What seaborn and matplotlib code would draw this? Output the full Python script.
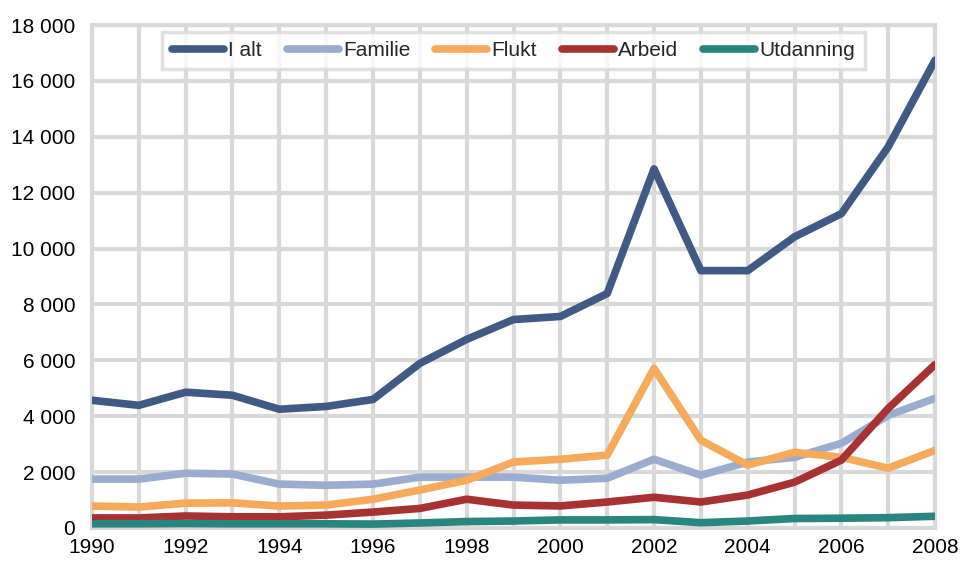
import numpy as np
import pandas as pd
import seaborn as sns
import matplotlib
matplotlib.use("Agg")
import matplotlib.pyplot as plt
from matplotlib.ticker import MultipleLocator, FuncFormatter

years = list(range(1990, 2009))
i_alt = [4570, 4390, 4860, 4750, 4250, 4350, 4600, 5890, 6750, 7460, 7570, 8390, 12850, 9210, 9210, 10420, 11250, 13640, 16740]
familie = [1750, 1750, 1960, 1930, 1570, 1530, 1570, 1820, 1820, 1820, 1710, 1780, 2460, 1890, 2360, 2530, 3030, 4030, 4640]
flukt = [785, 750, 890, 900, 785, 820, 1030, 1360, 1710, 2360, 2460, 2610, 5710, 3140, 2250, 2710, 2530, 2140, 2780]
arbeid = [360, 360, 430, 400, 400, 460, 570, 700, 1030, 820, 790, 930, 1100, 930, 1180, 1640, 2430, 4280, 5850]
utdanning = [150, 150, 160, 150, 150, 150, 140, 180, 230, 250, 290, 290, 300, 190, 250, 340, 350, 370, 420]

series_names = ["I alt", "Familie", "Flukt", "Arbeid", "Utdanning"]
colors = ["#3F5A85", "#9AADD0", "#F7A95C", "#A83232", "#2A8580"]

df = pd.DataFrame({
    "year": years * 5,
    "value": i_alt + familie + flukt + arbeid + utdanning,
    "serie": sum([[n] * len(years) for n in series_names], []),
})

sns.set_style("white")
plt.rcParams['font.family'] = ['Liberation Sans', 'DejaVu Sans']

fig = plt.figure(figsize=(9.62, 5.62), dpi=100)
ax = fig.add_axes([0.0956, 0.0605, 0.8764, 0.895])

sns.lineplot(data=df, x="year", y="value", hue="serie", hue_order=series_names,
             palette=colors, linewidth=5.5, ax=ax, legend=False, zorder=3)

ax.set_xlim(1990, 2008)
ax.set_ylim(0, 18000)
ax.xaxis.set_major_locator(MultipleLocator(2))
ax.xaxis.set_minor_locator(MultipleLocator(1))
ax.yaxis.set_major_locator(MultipleLocator(2000))
ax.yaxis.set_major_formatter(FuncFormatter(lambda v, p: f"{int(v):,}".replace(",", " ")))
ax.grid(True, which="both", color="#D9D9D9", linewidth=3, zorder=0)
ax.set_axisbelow(True)
ax.tick_params(which="both", length=0, labelsize=15, colors="black")
ax.tick_params(axis="y", pad=12)
ax.tick_params(axis="x", pad=7)
ax.set_xlabel("")
ax.set_ylabel("")
for s in ax.spines.values():
    s.set_color("#D9D9D9")
    s.set_linewidth(3)

handles = [plt.Line2D([0], [0], color=c, linewidth=5.5, solid_capstyle="round") for c in colors]
leg = ax.legend(handles, series_names, loc="upper center", bbox_to_anchor=(0.5, 0.995), ncol=5,
                frameon=True, fontsize=15, handlelength=2.5, handletextpad=0.2,
                columnspacing=1.2, borderpad=0.45, borderaxespad=0.2, fancybox=False)
leg.get_frame().set_edgecolor("#D9D9D9")
leg.get_frame().set_linewidth(2.5)

fig.savefig("out.png", dpi=100)
